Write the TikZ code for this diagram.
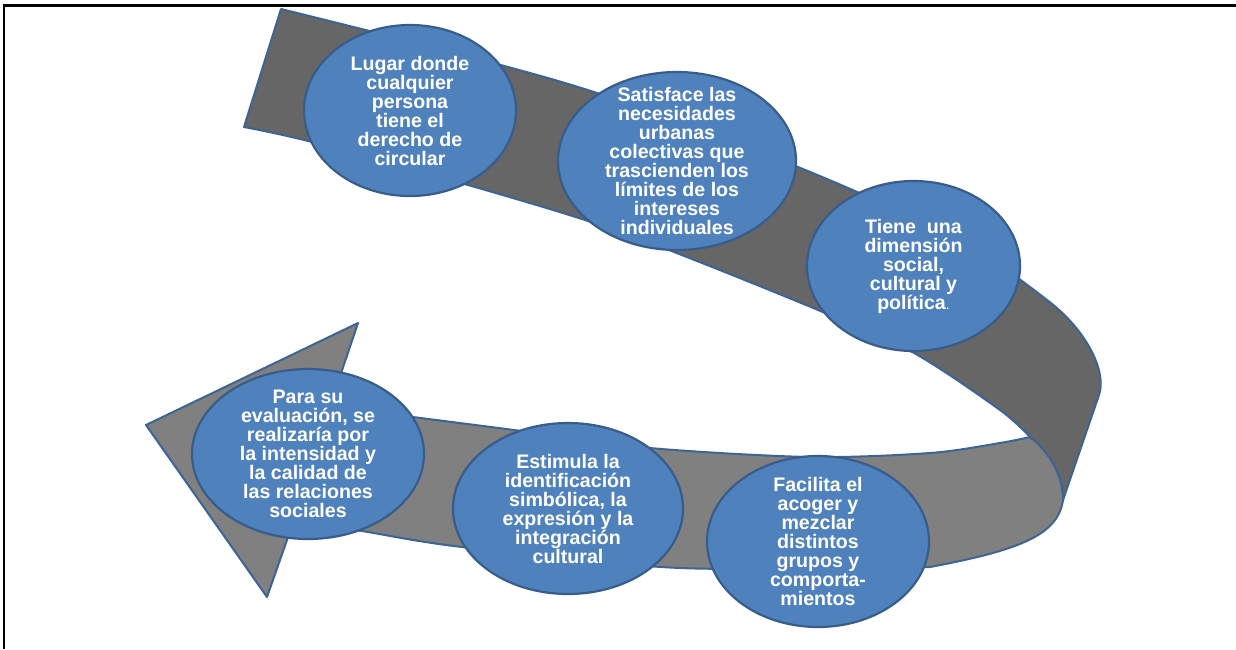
\documentclass[tikz,border=0pt]{standalone}
\usepackage{fontspec}
\setmainfont{Liberation Sans}
\usetikzlibrary{shapes.geometric}
\definecolor{bandline}{HTML}{3C6494}
\definecolor{bandDark}{HTML}{666666}
\definecolor{bandLight}{HTML}{808080}
\definecolor{bubblefill}{HTML}{4F81BD}
\definecolor{bubbleline}{HTML}{385D8A}

\begin{document}
\begin{tikzpicture}[x=1pt, y=-1pt,
    band/.style={draw=bandline, line width=2pt, line join=round},
    bubble/.style={ellipse, draw=bubbleline, line width=2.2pt, fill=bubblefill, inner sep=0pt},
    bubbletext/.style={text=white, align=center, inner sep=0pt, font=\bfseries\fontsize{19.6}{19}\selectfont}]
    \useasboundingbox (0,0) rectangle (1236,649);

    % Frame
    \draw[line width=2.5pt] (4,649) -- (4,5.3) -- (1236,5.3);

    % Lower ribbon with arrow head
    \draw[band, fill=bandLight] (330,406)
        -- plot[smooth, tension=0.5] coordinates {(330,406) (413,417) (514,430) (650,448) (810,457) (930,453) (1000,443) (1030,437)}
        .. controls (1048,450) and (1064,476) .. (1063,500)
        .. controls (1058,535) and (1020,550) .. (930,567)
        -- plot[smooth, tension=0.5] coordinates {(930,567) (680,568) (462,547) (362,531) (294,520)}
        -- (267,597) -- (146,425) -- (358,323) -- cycle;

    % Upper ribbon
    \draw[band, fill=bandDark] (281,9)
        -- plot[smooth, tension=0.5] coordinates {(281,9) (440,49) (597,93) (798,167) (960,240) (1047,300)}
        .. controls (1087,330) and (1107,372) .. (1099,395)
        -- (1063,500)
        .. controls (1064,476) and (1048,450) .. (1030,437)
        -- plot[smooth, tension=0.5] coordinates {(1030,437) (1000,410) (914,353) (818,310) (674,252) (585,220) (468,185) (312,142) (244,127)}
        -- cycle;

    % Bubbles
    \node[bubble, minimum width=212pt, minimum height=171pt] (c1) at (410,110.5) {};
    \node[bubble, minimum width=238pt, minimum height=178pt] (c2) at (677,161) {};
    \node[bubble, minimum width=213pt, minimum height=170pt] (c3) at (913.5,266) {};
    \node[bubble, minimum width=222pt, minimum height=171pt] (c4) at (818,541.5) {};
    \node[bubble, minimum width=230pt, minimum height=171pt] (c5) at (568,508.5) {};
    \node[bubble, minimum width=232pt, minimum height=170pt] (c6) at (308,454) {};

    % Texts
    \node[bubbletext] (t1) at (c1) {Lugar donde\\cualquier\\persona\\tiene el\\derecho de\\circular};
    \node[bubbletext] (t2) at (c2) {Satisface las\\necesidades\\urbanas\\colectivas que\\trascienden los\\límites de los\\intereses\\individuales};
    \node[bubbletext] (t3) at (c3) {Tiene\ \ una\\dimensión\\social,\\cultural y\\política{\mdseries\fontsize{14}{14}\selectfont.}};
    \node[bubbletext] (t4) at (c4) {Facilita el\\acoger y\\mezclar\\distintos\\grupos y\\comporta-\\mientos};
    \node[bubbletext] (t5) at (c5) {Estimula la\\identificación\\simbólica, la\\expresión y la\\integración\\cultural};
    \node[bubbletext] (t6) at (c6) {Para su\\evaluación, se\\realizaría por\\la intensidad y\\la calidad de\\las relaciones\\sociales};
\end{tikzpicture}
\end{document}
